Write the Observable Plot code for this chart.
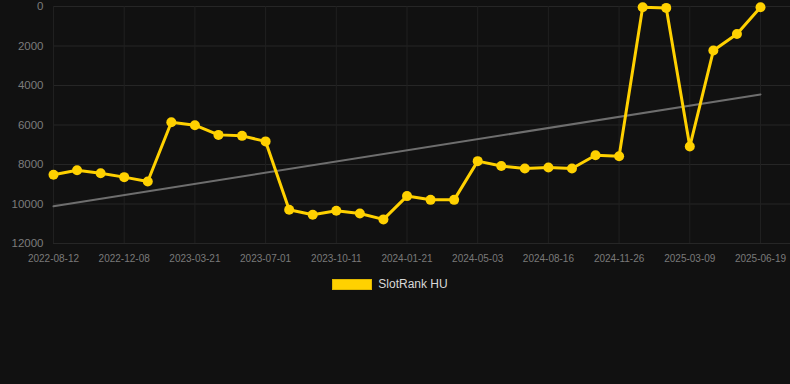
<!DOCTYPE html>
<html>
<head>
<meta charset="utf-8">
<script src="https://cdn.jsdelivr.net/npm/d3@7"></script>
<script src="https://cdn.jsdelivr.net/npm/@observablehq/plot@0.6"></script>
<style>
  html, body { margin: 0; padding: 0; background: #111111; }
  body { width: 790px; height: 384px; overflow: hidden; font-family: "Liberation Sans", Arial, sans-serif; }
  #legend { display: flex; justify-content: center; align-items: center; margin-top: 11px; height: 10px; padding-right: 10px; }
  #legend .sw { width: 38px; height: 9px; background: #ffd100; border: 1px solid #e0b800; margin-right: 6px; }
  #legend .lb { color: #d8d8d8; font-size: 12px; }
</style>
</head>
<body>
<div id="chart"></div>
<div id="legend"><span class="sw"></span><span class="lb">SlotRank HU</span></div>
<script>
const dates = [
  "2022-08-12","2022-09-20","2022-10-29","2022-12-08","2023-01-11","2023-02-15",
  "2023-03-21","2023-04-24","2023-05-28","2023-07-01","2023-08-04","2023-09-07",
  "2023-10-11","2023-11-14","2023-12-18","2024-01-21","2024-02-24","2024-03-29",
  "2024-05-03","2024-06-07","2024-07-12","2024-08-16","2024-09-19","2024-10-23",
  "2024-11-26","2024-12-30","2025-02-03","2025-03-09","2025-04-12","2025-05-16",
  "2025-06-19"
];
const ranks = [
  8520, 8290, 8440, 8640, 8860, 5860,
  6010, 6500, 6550, 6830, 10290, 10540,
  10340, 10480, 10780, 9600, 9790, 9790,
  7830, 8080, 8200, 8150, 8200, 7530,
  7580, 40, 70, 7090, 2230, 1390,
  40
];
const xTickLabels = ["2022-08-12","2022-12-08","2023-03-21","2023-07-01","2023-10-11","2024-01-21","2024-05-03","2024-08-16","2024-11-26","2025-03-09","2025-06-19"];
const yTicks = [0, 2000, 4000, 6000, 8000, 10000, 12000];
const trendDates = ["2022-08-12", "2025-06-19"];
const trendValues = [10118, 4450];
const seriesName = "SlotRank HU";

const idx = d => dates.indexOf(d);
const data = dates.map((d, i) => ({i, date: d, rank: ranks[i]}));
const trend = trendDates.map((d, k) => ({i: idx(d), rank: trendValues[k]}));
const xTicks = xTickLabels.map(idx);

const chart = Plot.plot({
  width: 790,
  height: 268,
  marginTop: 6,
  marginBottom: 25,
  marginLeft: 53,
  marginRight: 0,
  style: {background: "#111111", fontFamily: "Liberation Sans, Arial, sans-serif"},
  x: {type: "linear", domain: [0, dates.length - 1], range: [53, 760]},
  y: {domain: [0, 12000], reverse: true},
  marks: [
    Plot.gridY(yTicks, {stroke: "#262626", strokeOpacity: 1}),
    Plot.gridX(xTicks, {stroke: "#202020", strokeOpacity: 1}),
    Plot.axisY(yTicks, {tickSize: 0, tickPadding: 10, fontSize: 11.5, fill: "#7c7c7c", label: null, tickFormat: d => String(d)}),
    Plot.axisX(xTicks, {tickSize: 0, tickPadding: 11, fontSize: 10, fill: "#7a7a7a", label: null, tickFormat: i => dates[i]}),
    Plot.line(trend, {x: "i", y: "rank", stroke: "#6e6e6e", strokeWidth: 2}),
    Plot.line(data, {x: "i", y: "rank", stroke: "#ffd100", strokeWidth: 3, strokeLinejoin: "round"}),
    Plot.dot(data, {x: "i", y: "rank", r: 5, fill: "#ffd100", stroke: "none"})
  ]
});
document.getElementById("chart").appendChild(chart);
</script>
</body>
</html>
